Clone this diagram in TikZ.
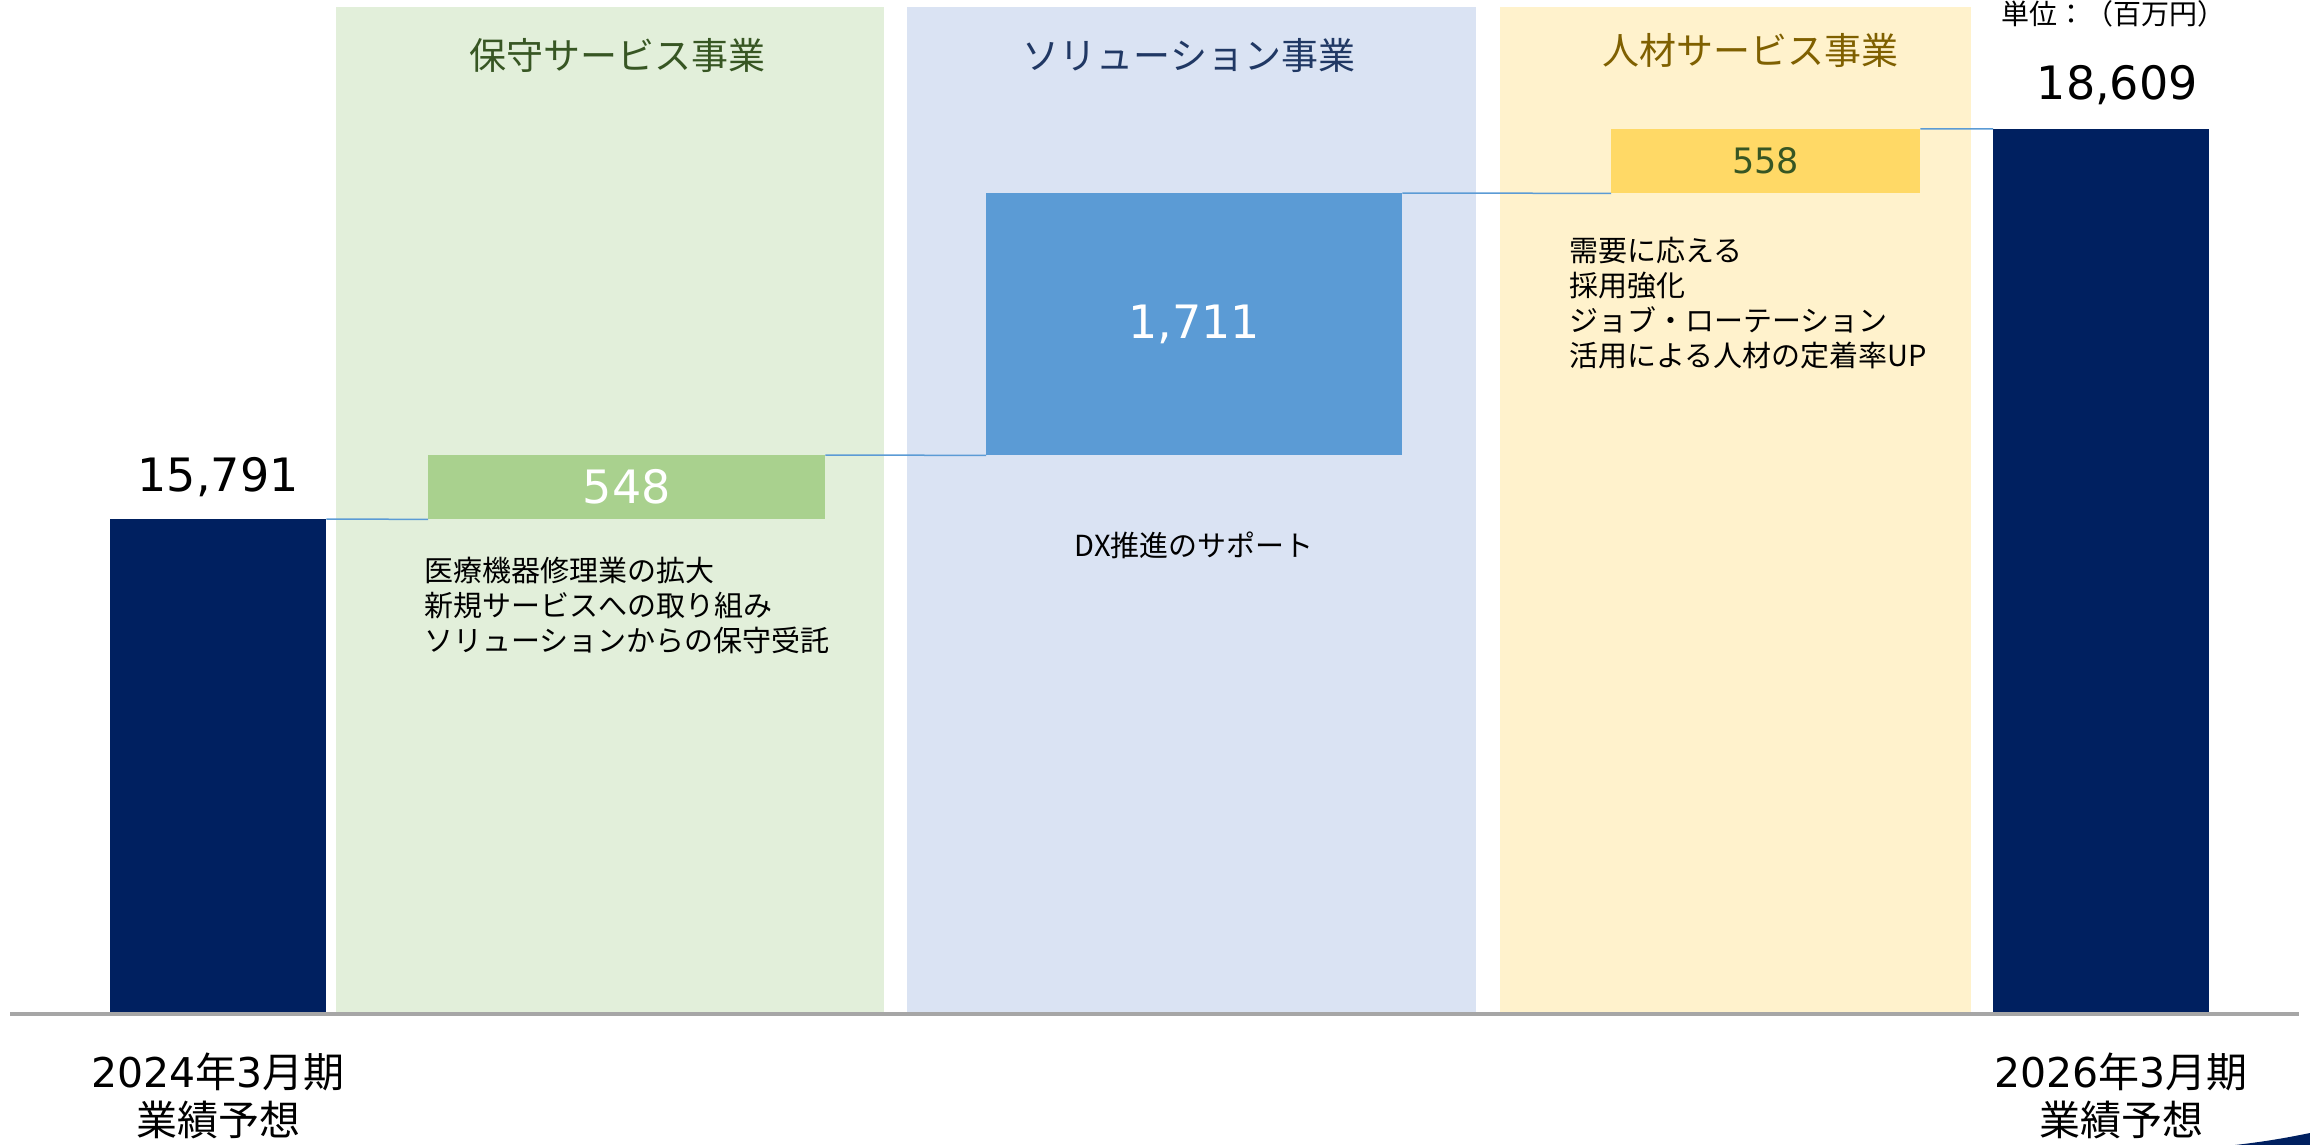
\documentclass[tikz,border=0pt]{standalone}
\usepackage{fontspec}
\setmainfont{Noto Sans CJK JP}
\newfontfamily\numfont{DejaVu Sans}
\usepackage{tikz}
\usetikzlibrary{positioning}
\usepackage{xcolor}

\definecolor{navy}{HTML}{002060}
\definecolor{hoshubg}{HTML}{E2EFDA}
\definecolor{hoshubar}{HTML}{A9D18E}
\definecolor{hoshutxt}{HTML}{375623}
\definecolor{solbg}{HTML}{DAE3F3}
\definecolor{solbar}{HTML}{5B9BD5}
\definecolor{soltxt}{HTML}{203864}
\definecolor{jinbg}{HTML}{FFF2CC}
\definecolor{jinbar}{HTML}{FFD966}
\definecolor{jintxt}{HTML}{7F6000}
\definecolor{linkblue}{HTML}{5B9BD5}
\definecolor{axisgray}{HTML}{A6A6A6}

\begin{document}
\begin{tikzpicture}[x=1pt,y=-1pt,inner sep=0pt]
  \tikzstyle{panel}=[rectangle,anchor=north west,minimum height=1006pt]
  \tikzstyle{bar}=[rectangle,anchor=north west,font=\numfont\fontsize{46}{50}\selectfont]
  \tikzstyle{link}=[draw=linkblue,line width=1.5pt]
  \tikzstyle{title}=[font=\fontsize{37}{40}\selectfont]
  \tikzstyle{total}=[font=\numfont\fontsize{46}{50}\selectfont]
  \tikzstyle{note}=[align=left,font=\fontsize{29}{35}\selectfont]
  \tikzstyle{period}=[align=center,font=\fontsize{41}{48}\selectfont]

  \useasboundingbox (0,0) rectangle (2310,1145);

  % background panels
  \node[panel,fill=hoshubg,minimum width=548pt] (p_1) at (336,7)  {};
  \node[panel,fill=solbg,  minimum width=569pt] (p_2) at (907,7)  {};
  \node[panel,fill=jinbg,  minimum width=471pt] (p_3) at (1500,7) {};

  \node[title,text=hoshutxt] (t_1) at (617,55)  {保守サービス事業};
  \node[title,text=soltxt]   (t_2) at (1189,55) {ソリューション事業};
  \node[title,text=jintxt]   (t_3) at (1750,50) {人材サービス事業};

  % bars
  \node[bar,fill=navy,minimum width=216pt,minimum height=494pt] (b_0) at (110,519) {};
  \node[bar,fill=hoshubar,text=white,minimum width=397pt,minimum height=64pt]
    (b_1) at (428,455) {548};
  \node[bar,fill=solbar,text=white,minimum width=416pt,minimum height=262pt]
    (b_2) at (986,193) {1,711};
  \node[bar,fill=jinbar,text=hoshutxt,font=\numfont\fontsize{35}{40}\selectfont,
    minimum width=309pt,minimum height=64pt] (b_3) at (1611,129) {558};
  \node[bar,fill=navy,minimum width=216pt,minimum height=884pt] (b_4) at (1993,129) {};

  \path[link]
  (b_0.north east) -- (b_1.south west)
  (b_1.north east) -- (b_2.south west)
  (b_2.north east) -- (b_3.south west)
  (b_3.north east) -- (b_4.north west)
  ;

  % totals and notes
  \node[total] (v_0) [above=22pt of b_0] {15,791};
  \node[total] (v_4) [above=24pt of b_4,xshift=16pt] {18,609};
  \node[font=\fontsize{28}{30}\selectfont] (unit) at (2113,14) {単位：（百万円）};

  \node[note] (n_1) [below=38pt of b_1.south west,anchor=north west,xshift=-4pt]
    {医療機器修理業の拡大\\新規サービスへの取り組み\\ソリューションからの保守受託};
  \node[note] (n_2) [below=76pt of b_2] {DX推進のサポート};
  \node[note] (n_3) [below=44pt of b_3.south west,anchor=north west,xshift=-42pt]
    {需要に応える\\採用強化\\ジョブ・ローテーション\\活用による人材の定着率UP};

  % axis
  \coordinate (ax_l) at (10,1014);
  \coordinate (ax_r) at (2299,1014);
  \draw[axisgray,line width=4pt] (ax_l) -- (ax_r);

  \node[period] (y_0) [below=39pt of b_0] {{\numfont 2024}年{\numfont 3}月期\\業績予想};
  \node[period] (y_4) [below=39pt of b_4,xshift=20pt] {{\numfont 2026}年{\numfont 3}月期\\業績予想};

  \fill[navy] (2235,1145) .. controls (2270,1141) and (2290,1137) .. (2310,1133)
    -- (2310,1145) -- cycle;
\end{tikzpicture}
\end{document}
